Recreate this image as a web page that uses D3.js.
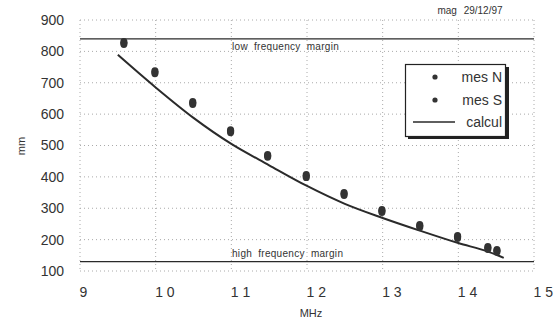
<!DOCTYPE html>
<html><head><meta charset="utf-8">
<script src="https://cdn.jsdelivr.net/npm/d3@7"></script>
<style>
body{margin:0;background:#fff;}
svg{display:block;font-family:"Liberation Sans",Arial,sans-serif;}
</style></head>
<body>
<svg id="c" width="556" height="321"></svg>
<script>
// ---- data ----
const xTicks = [9, 10, 11, 12, 13, 14, 15];
const xTickLabels = ["9", "1 0", "1 1", "1 2", "1 3", "1 4", "1 5"];
const yTicks = [100, 200, 300, 400, 500, 600, 700, 800, 900];
const mesNFreq = [9.58, 9.99, 10.49, 10.99, 11.48, 11.99, 12.49, 12.99, 13.49, 13.99, 14.39, 14.51];
const mesN     = [829, 736, 638, 548, 469, 405, 348, 294, 246, 211, 176, 166];
const mesSFreq = [9.58, 9.99, 10.49, 10.99, 11.48, 11.99, 12.49, 12.99, 13.49, 13.99, 14.39, 14.51];
const mesS     = [824, 731, 633, 543, 465, 400, 343, 289, 241, 206, 171, 162];
const calculFreq = [9.5, 10.0, 10.5, 11.0, 11.5, 12.0, 12.5, 13.0, 13.5, 14.0, 14.4, 14.6];
const calcul     = [789, 685, 588, 505, 437, 371, 314, 269, 228, 189, 161, 142];
const lowMargin = 840;
const highMargin = 130;
const legendLabels = ["mes N", "mes S", "calcul"];

// ---- chart ----
const svg = d3.select("#c");
const x = d3.scaleLinear().domain([9, 15]).range([80, 534]);
const y = d3.scaleLinear().domain([100, 900]).range([271, 20]);
const ink = "#2a2a2a";

// grid
const g = svg.append("g");
g.selectAll(".vg").data(xTicks).join("line")
  .attr("x1", d => x(d)).attr("x2", d => x(d)).attr("y1", y(900)).attr("y2", y(100))
  .attr("stroke", "#aaa").attr("stroke-width", 1).attr("stroke-dasharray", "1,3");
g.selectAll(".hg").data(yTicks).join("line")
  .attr("x1", x(9)).attr("x2", x(15)).attr("y1", d => y(d)).attr("y2", d => y(d))
  .attr("stroke", "#aaa").attr("stroke-width", 1).attr("stroke-dasharray", "1,3");

// axes
const ya = svg.append("g").attr("transform", `translate(${x(9)},0)`)
  .call(d3.axisLeft(y).tickValues(yTicks).tickSize(0).tickPadding(16).tickFormat(d3.format("d")));
ya.select(".domain").remove();
ya.selectAll("text").attr("font-size", 14).attr("fill", "#333").attr("font-family", "Liberation Sans, Arial, sans-serif");

const xa = svg.append("g").attr("transform", `translate(0,${y(100)})`)
  .call(d3.axisBottom(x).tickValues(xTicks).tickSize(0).tickPadding(16).tickFormat((d, i) => xTickLabels[i]));
xa.select(".domain").remove();
xa.selectAll("text").attr("font-size", 14).attr("fill", "#333").attr("text-anchor", "start")
  .attr("dx", -1).attr("font-family", "Liberation Sans, Arial, sans-serif");

svg.append("text").attr("x", 311).attr("y", 317).attr("text-anchor", "middle")
  .attr("font-size", 11).attr("fill", "#333").text("MHz");
svg.append("text").attr("transform", "translate(25,146) rotate(-90)").attr("text-anchor", "middle")
  .attr("font-size", 11).attr("fill", "#333").text("mm");
svg.append("text").attr("x", 470).attr("y", 14).attr("text-anchor", "middle")
  .attr("font-size", 10).attr("word-spacing", 4).attr("fill", "#333").text("mag 29/12/97");

// margins
svg.append("line").attr("x1", x(9)).attr("x2", x(15)).attr("y1", y(lowMargin)).attr("y2", y(lowMargin))
  .attr("stroke", ink).attr("stroke-width", 1.4);
svg.append("line").attr("x1", x(9)).attr("x2", x(15)).attr("y1", y(highMargin)).attr("y2", y(highMargin))
  .attr("stroke", ink).attr("stroke-width", 1.4);
svg.append("text").attr("x", 232).attr("y", y(lowMargin) + 11).attr("font-size", 10).attr("fill", "#333")
  .attr("word-spacing", 3).attr("letter-spacing", 0.3).text("low frequency margin");
svg.append("text").attr("x", 232).attr("y", y(highMargin) - 5).attr("font-size", 10).attr("fill", "#333")
  .attr("word-spacing", 3).attr("letter-spacing", 0.3).text("high frequency margin");

// calcul curve
const line = d3.line().x(d => x(d[0])).y(d => y(d[1])).curve(d3.curveMonotoneX);
svg.append("path").datum(calculFreq.map((f, i) => [f, calcul[i]]))
  .attr("d", line).attr("fill", "none").attr("stroke", ink).attr("stroke-width", 2);

// points
const dots = (fr, vals) => svg.append("g").selectAll("ellipse").data(fr.map((f, i) => [f, vals[i]])).join("ellipse")
  .attr("cx", d => x(d[0])).attr("cy", d => y(d[1])).attr("rx", 3.6).attr("ry", 4.2).attr("fill", "#333");
dots(mesNFreq, mesN);
dots(mesSFreq, mesS);

// legend
const lg = svg.append("g");
lg.append("rect").attr("x", 408).attr("y", 67).attr("width", 101).attr("height", 72).attr("fill", "#222");
lg.append("rect").attr("x", 405.5).attr("y", 64.5).attr("width", 100).attr("height", 72)
  .attr("fill", "#fff").attr("stroke", "#222").attr("stroke-width", 1.2);
const ly = [77, 100, 122];
lg.selectAll("text").data(legendLabels).join("text")
  .attr("x", 502).attr("y", (d, i) => ly[i] + 5).attr("text-anchor", "end")
  .attr("font-size", 14).attr("fill", "#333").text(d => d);
lg.append("circle").attr("cx", 435).attr("cy", ly[0]).attr("r", 2.6).attr("fill", "#333");
lg.append("circle").attr("cx", 435).attr("cy", ly[1]).attr("r", 2.6).attr("fill", "#333");
lg.append("line").attr("x1", 413).attr("x2", 455).attr("y1", ly[2]).attr("y2", ly[2])
  .attr("stroke", ink).attr("stroke-width", 1.6);
</script>
</body></html>
